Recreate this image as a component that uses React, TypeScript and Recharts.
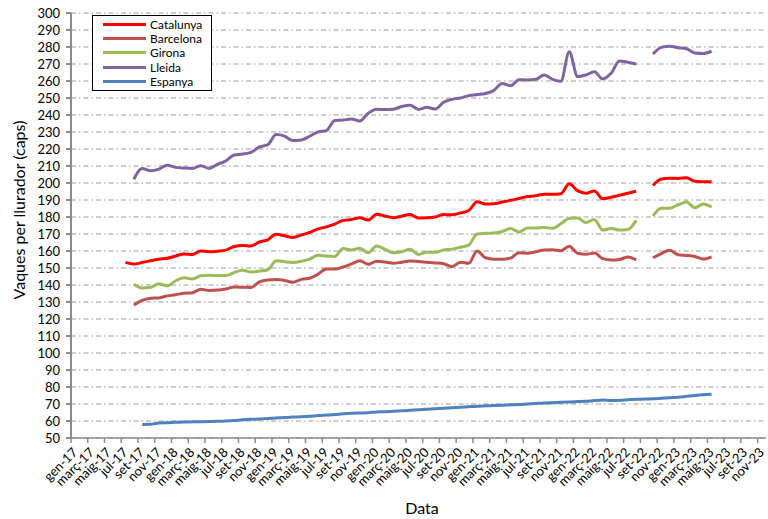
import { LineChart, Line, XAxis, YAxis, CartesianGrid, Legend } from 'recharts';

// x ticks every 2 months, from gen-17 (month 0) to nov-23 (month 82)
const xTickLabels = [
  'gen-17', 'març-17', 'maig-17', 'jul-17', 'set-17', 'nov-17',
  'gen-18', 'març-18', 'maig-18', 'jul-18', 'set-18', 'nov-18',
  'gen-19', 'març-19', 'maig-19', 'jul-19', 'set-19', 'nov-19',
  'gen-20', 'març-20', 'maig-20', 'jul-20', 'set-20', 'nov-20',
  'gen-21', 'març-21', 'maig-21', 'jul-21', 'set-21', 'nov-21',
  'gen-22', 'març-22', 'maig-22', 'jul-22', 'set-22', 'nov-22',
  'gen-23', 'març-23', 'maig-23', 'jul-23', 'set-23', 'nov-23',
];
const xTicks = xTickLabels.map((_, i) => i * 2);
const yTicks = [50, 60, 70, 80, 90, 100, 110, 120, 130, 140, 150, 160, 170, 180, 190, 200,
  210, 220, 230, 240, 250, 260, 270, 280, 290, 300];

// monthly values, jul-17 (month 6) .. maig-23 (month 76); oct-22 missing
const firstMonth = 6;

const catalunya = [
  153.3, 152.3, 153.2, 154.3, 155.2, 155.7,
  157.1, 158.2, 158, 160, 159.6, 159.9,
  160.5, 162.7, 163.2, 163, 165.3, 166.6,
  169.8, 169, 168, 169.4, 171, 173,
  174.2, 175.8, 178, 178.5, 179.6, 178.2,
  181.6, 180.6, 179.6, 180.5, 181.4, 179.4,
  179.5, 180, 181.4, 181.3, 182.4, 183.8,
  189, 187.6, 187.8, 188.8, 189.8, 190.9,
  192, 192.5, 193.4, 193.4, 193.7, 199.6,
  195.5, 194, 195.3, 190.7, 191.6, 192.8,
  194, 195.2, null, 198.5, 202.3, 202.8,
  202.7, 203.1, 201, 200.8, 200.8,
];

const barcelona = [
  null, 128.2, 131, 132.2, 132.4, 133.6,
  134.3, 135.1, 135.4, 137.5, 136.8, 137,
  137.7, 138.8, 138.7, 138.6, 141.8, 143,
  143.3, 142.7, 141.6, 143.3, 144, 146.3,
  149.4, 149.4, 150.6, 152.4, 154.3, 152.2,
  154, 153.5, 152.8, 153.4, 154.1, 153.8,
  153.4, 153, 152.5, 150.8, 153.4, 152.8,
  160, 156, 155.2, 155.2, 155.8, 159,
  158.7, 159.5, 160.6, 160.8, 160.2, 162.8,
  158.7, 158.1, 158.8, 155.5, 154.7, 155,
  156.5, 154.8, null, 156, 158.5, 160.4,
  157.8, 157.4, 156.8, 155.3, 156.6,
];

const girona = [
  null, 140.5, 138.3, 138.5, 140.8, 139.5,
  142.5, 144.2, 143.6, 145.4, 145.7, 145.6,
  145.6, 147.3, 148.7, 147.6, 148.2, 149,
  154.2, 153.7, 153.3, 154, 155.2, 157.5,
  157, 156.8, 161.5, 160.6, 161.6, 159,
  163, 161, 159, 159.6, 161, 158,
  159.2, 159.2, 160.6, 161.1, 162.2, 163.5,
  170, 170.4, 170.6, 171.5, 173.2, 171.2,
  173.6, 173.6, 173.8, 173.4, 176, 179.2,
  179.4, 176.7, 178.6, 172.3, 173.3, 172.3,
  172.6, 178, null, 180.6, 185.2, 185.1,
  187.2, 188.8, 185.5, 187.6, 185.8,
];

const lleida = [
  null, 202.2, 208.5, 207.2, 208.2, 210.5,
  209.2, 208.8, 208.6, 210.2, 208.6, 211,
  213, 216.5, 217, 218, 221.2, 222.5,
  228.5, 227.6, 225, 225.3, 227.5, 230,
  230.8, 236.8, 237, 237.6, 236.5, 241,
  243.4, 243.2, 243.4, 245, 245.8, 243.3,
  244.5, 243.5, 247.5, 249.2, 250, 251.4,
  252, 252.6, 254.5, 258.6, 257.2, 260.8,
  260.6, 261, 263.5, 261, 259.8, 277.2,
  262.6, 263.5, 265.5, 261.2, 264.5, 271.8,
  271, 270, null, 275.9, 279.8, 280.4,
  279.6, 279, 276.5, 276.2, 277.5,
];

const espanya = [
  null, null, 58.0, 58.1, 58.8, 59.0,
  59.2, 59.4, 59.5, 59.6, 59.7, 59.8,
  60.0, 60.3, 60.7, 61.0, 61.2, 61.5,
  61.8, 62.1, 62.3, 62.5, 62.8, 63.2,
  63.5, 63.8, 64.2, 64.5, 64.7, 64.9,
  65.3, 65.5, 65.8, 66.0, 66.3, 66.6,
  66.9, 67.2, 67.5, 67.8, 68.1, 68.4,
  68.7, 68.9, 69.1, 69.3, 69.5, 69.7,
  70.0, 70.3, 70.6, 70.8, 71.0, 71.2,
  71.4, 71.6, 72.0, 72.3, 72.1, 72.2,
  72.5, 72.8, 72.9, 73.1, 73.4, 73.7,
  74.0, 74.5, 75.0, 75.4, 75.7,
];

const series = [
  { key: 'Catalunya', values: catalunya, color: '#FF0000' },
  { key: 'Barcelona', values: barcelona, color: '#C0504D' },
  { key: 'Girona', values: girona, color: '#9BBB59' },
  { key: 'Lleida', values: lleida, color: '#8064A2' },
  { key: 'Espanya', values: espanya, color: '#4F81BD' },
];

// points sit in the middle of their month
const data = catalunya.map((_, i) => {
  const row: Record<string, number | null> = { t: firstMonth + i + 0.5 };
  series.forEach(s => { row[s.key] = s.values[i]; });
  return row;
});

const FONT = 'Lato, "Open Sans", sans-serif';

function XTick({ x, y, payload }: any) {
  const label = xTickLabels[Math.round(payload.value / 2)];
  return (
    <g transform={`translate(${x + 4},${y + 5})`}>
      <text transform="rotate(-45)" textAnchor="end" dy="0.35em" fontSize={13} fontFamily={FONT} fill="#000">
        {label}
      </text>
    </g>
  );
}

function YTitle() {
  return (
    <text x={18} y={210} transform="rotate(-90, 18, 210)" textAnchor="middle" dominantBaseline="central"
      fontSize={16} fontFamily={FONT} fill="#000">
      Vaques per llurador (caps)
    </text>
  );
}

function XTitle() {
  return (
    <text x={422} y={507} textAnchor="middle" dominantBaseline="central" fontSize={16} fontFamily={FONT} fill="#000">
      Data
    </text>
  );
}

function LegendBox() {
  return (
    <div style={{ width: 118, height: 73, border: '1px solid #000', background: '#fff', paddingTop: 1, boxSizing: 'content-box' }}>
      {series.map(s => (
        <div key={s.key} style={{ display: 'flex', alignItems: 'center', height: 14.4 }}>
          <div style={{ width: 43, height: 3, background: s.color, marginLeft: 10, marginRight: 4 }} />
          <span style={{ fontSize: 12, fontFamily: FONT, lineHeight: '13px', color: '#000' }}>{s.key}</span>
        </div>
      ))}
    </div>
  );
}

export default function App() {
  return (
    <div style={{ position: 'absolute', left: 0, top: 0, background: '#fff' }}>
      <LineChart width={768} height={519} data={data} margin={{ top: 13, right: 2, bottom: 0, left: 0 }}>
        <CartesianGrid vertical={false} stroke="#9a9a9a" strokeDasharray="5 3 1.5 3" />
        <XAxis
          dataKey="t"
          type="number"
          domain={[0, 83]}
          ticks={xTicks}
          interval={0}
          height={81}
          stroke="#8c8c8c"
          strokeWidth={1.5}
          tickSize={5}
          tick={<XTick />}
          label={<XTitle />}
        />
        <YAxis
          domain={[50, 300]}
          ticks={yTicks}
          interval={0}
          width={71}
          stroke="#8c8c8c"
          strokeWidth={2}
          tickSize={5}
          tickMargin={6}
          tick={{ fontSize: 13, fontFamily: FONT, fill: '#000' }}
          label={<YTitle />}
        />
        <Legend
          layout="vertical"
          align="center"
          verticalAlign="middle"
          content={<LegendBox />}
          wrapperStyle={{ left: 92, top: 15, width: 120, height: 76 }}
        />
        {series.map(s => (
          <Line
            key={s.key}
            type="monotone"
            dataKey={s.key}
            stroke={s.color}
            strokeWidth={3}
            dot={false}
            activeDot={false}
            connectNulls={false}
            isAnimationActive={false}
          />
        ))}
      </LineChart>
    </div>
  );
}
